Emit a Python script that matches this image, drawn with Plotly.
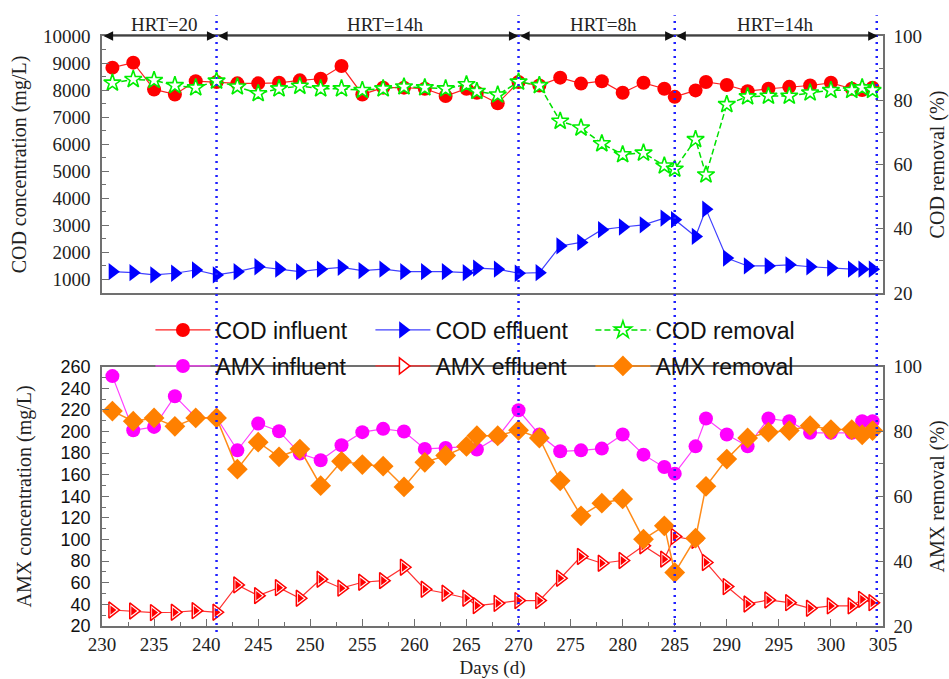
import plotly.graph_objects as go

days = [231, 233, 235, 237, 239, 241, 243, 245, 247, 249, 251, 253, 255, 257, 259, 261, 263, 265, 266, 268,
        270, 272, 274, 276, 278, 280, 282, 284, 285, 287, 288, 290, 292, 294, 296, 298, 300, 302, 303, 304]

cod_influent = [8830, 9015, 8025, 7840, 8330, 8300, 8250, 8250, 8270, 8360, 8420, 8890, 7840, 8090, 8090, 8050, 7780, 8050, 7900, 7510,
                8300, 8170, 8460, 8240, 8330, 7900, 8270, 8050, 7750, 7990, 8300, 8190, 7960, 8050, 8120, 8170, 8270, 8050, 8000, 8090]
cod_effluent = [1290, 1250, 1170, 1230, 1350, 1170, 1290, 1470, 1380, 1290, 1380, 1450, 1330, 1380, 1290, 1290, 1290, 1250, 1420, 1380,
                1230, 1250, 2240, 2370, 2840, 2940, 3020, 3270, 3210, 2590, 3600, 1790, 1500, 1500, 1540, 1470, 1420, 1380, 1380, 1380]
cod_removal = [85.4, 86.5, 86.2, 84.6, 83.9, 86.0, 84.2, 82.1, 83.6, 84.4, 83.6, 83.6, 83.1, 83.6, 84.2, 83.9, 83.6, 84.9, 82.8, 81.7,
               85.7, 84.6, 73.5, 71.4, 66.5, 63.1, 63.6, 59.6, 58.6, 67.8, 56.8, 78.7, 81.1, 81.3, 81.3, 82.3, 83.1, 83.1, 83.9, 83.1]

amx_influent = [251.3, 201.2, 204.3, 232.7, 213, 213, 182.6, 207.4, 200.3, 179.6, 173.4, 187.3, 199.4, 202.5, 200, 183.9, 184.8, 186, 183.3, 195,
                219.7, 197.2, 181.7, 182.6, 184.2, 197.2, 178.6, 167.2, 161, 186.3, 212, 197.2, 186.3, 212, 209.5, 198.8, 198.8, 198.8, 209.5, 209.5]
amx_effluent = [34.8, 33.9, 32.4, 32.7, 34.2, 32.7, 58, 48.1, 55.5, 45.7, 63.3, 55, 60.5, 62, 74.4, 54, 50.3, 45.7, 38.9, 41,
                43.5, 43.5, 64.2, 84.3, 78.1, 80.6, 94.2, 81.9, 102.9, 99.2, 78.8, 56.5, 40.4, 44.1, 41.6, 36.4, 38.6, 38.6, 44.7, 41.6]
amx_removal = [86.3, 83.2, 84.2, 81.6, 84.2, 84.2, 68.4, 76.7, 72.2, 74.6, 63.3, 70.8, 69.8, 69.3, 62.9, 70.5, 72.6, 75.4, 78.7, 78.7,
               80.4, 78, 64.8, 54, 57.9, 59.2, 46.8, 50.9, 36.5, 47.1, 63.1, 71.5, 78, 79.8, 80.3, 81.8, 80.6, 80.6, 79, 80.3]

cod_ticks = [1000, 2000, 3000, 4000, 5000, 6000, 7000, 8000, 9000, 10000]
cod_ticktext = ["1000", "2000", "3000", "4000", "5000", "6000", "7000", "8000", "9000", "10000"]

hrt_bounds = [230, 241, 270, 285, 304.5]
hrt_labels = ["HRT=20", "HRT=14h", "HRT=8h", "HRT=14h"]
hrt_label_x = [236.0, 257.2, 278.2, 294.7]
divider_days = [241, 270, 285, 304.4]

SERIF = "Liberation Serif, Times New Roman, serif"
SANS = "Liberation Sans, Arial, sans-serif"
AX = "#707070"

fig = go.Figure()

fig.add_trace(go.Scatter(x=days, y=cod_influent, name="COD influent", mode="lines+markers",
                         line=dict(color="#ff2020", width=1.2),
                         marker=dict(symbol="circle", size=14, color="#ff0000"),
                         xaxis="x", yaxis="y", legend="legend"))
fig.add_trace(go.Scatter(x=days, y=cod_effluent, name="COD effluent", mode="lines+markers",
                         line=dict(color="#4040ff", width=1.2),
                         marker=dict(symbol="triangle-right", size=15, color="#0000ff"),
                         xaxis="x", yaxis="y", legend="legend"))
fig.add_trace(go.Scatter(x=days, y=cod_removal, name="COD removal", mode="lines+markers",
                         line=dict(color="#00e000", width=1.5, dash="6px,3px"),
                         marker=dict(symbol="star", size=13, color="white",
                                     line=dict(color="#00ee00", width=1.6)),
                         xaxis="x", yaxis="y2", legend="legend"))

fig.add_trace(go.Scatter(x=days, y=amx_influent, name="AMX influent", mode="lines+markers",
                         line=dict(color="#ff40ff", width=1.2),
                         marker=dict(symbol="circle", size=14, color="#ff00ff"),
                         xaxis="x2", yaxis="y3", legend="legend2"))
fig.add_trace(go.Scatter(x=days, y=amx_effluent, name="AMX effluent", mode="lines+markers",
                         line=dict(color="#ff3030", width=1.2),
                         marker=dict(symbol="triangle-right", size=14, color="white",
                                     line=dict(color="#ff0000", width=1.5)),
                         xaxis="x2", yaxis="y3", legend="legend2"))
fig.add_trace(go.Scatter(x=days, y=amx_effluent, name="AMX effluent fill", mode="markers",
                         marker=dict(symbol="triangle-right", size=8, color="#ff0000"),
                         xaxis="x2", yaxis="y3", showlegend=False, hoverinfo="skip"))
fig.add_trace(go.Scatter(x=days, y=amx_removal, name="AMX removal", mode="lines+markers",
                         line=dict(color="#ff8c1a", width=1.5),
                         marker=dict(symbol="diamond", size=16, color="#ff8000"),
                         xaxis="x2", yaxis="y4", legend="legend2"))

TOP = [0.5644, 1.0]
BOT = [0.0, 0.4395]

common_axis = dict(showline=True, linecolor=AX, linewidth=1.5, showgrid=False, zeroline=False,
                   ticks="inside", tickcolor=AX, ticklen=7, tickwidth=1.2, automargin=False)

legend_common = dict(orientation="h", xanchor="left", yanchor="middle",
                     entrywidth=150, entrywidthmode="pixels", itemwidth=55,
                     font=dict(family=SANS, size=23, color="#111"), bgcolor="rgba(0,0,0,0)")

fig.update_layout(
    width=949, height=679,
    margin=dict(l=102, r=66, t=36, b=53, autoexpand=False),
    paper_bgcolor="white", plot_bgcolor="white",
    showlegend=True,
    xaxis=dict(domain=[0, 1], anchor="y", range=[230, 305], showticklabels=False,
               showline=True, linecolor=AX, linewidth=1.5, mirror=True, ticks="",
               showgrid=False, zeroline=False, automargin=False),
    yaxis=dict(domain=TOP, anchor="x", range=[500, 10000], tickmode="array",
               tickvals=cod_ticks, ticktext=cod_ticktext, mirror=True, ticklabelstandoff=6,
               minor=dict(dtick=500, tick0=500, ticks="inside", ticklen=4, tickcolor=AX),
               tickfont=dict(family=SERIF, size=19, color="#222"),
               title=dict(text="COD concentration (mg/L)", font=dict(family=SERIF, size=20, color="#222"),
                          standoff=11),
               **common_axis),
    yaxis2=dict(overlaying="y", side="right", anchor="x", range=[20, 100], dtick=20, tick0=20,
                ticklabelstandoff=5,
                minor=dict(dtick=10, ticks="inside", ticklen=4, tickcolor=AX),
                tickfont=dict(family=SERIF, size=19, color="#222"),
                title=dict(text="COD removal (%)", font=dict(family=SERIF, size=20, color="#222"),
                           standoff=10),
                **common_axis),
    xaxis2=dict(domain=[0, 1], anchor="y3", range=[230, 305], dtick=5, tick0=230, mirror=True,
                ticklabelstandoff=0,
                minor=dict(dtick=2.5, tick0=230, ticks="inside", ticklen=4, tickcolor=AX),
                tickfont=dict(family=SERIF, size=19, color="#222"),
                title=dict(text="Days (d)", font=dict(family=SERIF, size=19, color="#222"), standoff=16),
                **common_axis),
    yaxis3=dict(domain=BOT, anchor="x2", range=[20, 260], dtick=20, tick0=20, mirror=True,
                ticklabelstandoff=6,
                minor=dict(dtick=10, ticks="inside", ticklen=4, tickcolor=AX),
                tickfont=dict(family=SANS, size=18, color="#111"),
                title=dict(text="AMX concentration (mg/L)", font=dict(family=SERIF, size=20, color="#222"),
                           standoff=24),
                **common_axis),
    yaxis4=dict(overlaying="y3", side="right", anchor="x2", range=[20, 100], dtick=20, tick0=20,
                ticklabelstandoff=5,
                minor=dict(dtick=10, ticks="inside", ticklen=4, tickcolor=AX),
                tickfont=dict(family=SERIF, size=19, color="#222"),
                title=dict(text="AMX removal (%)", font=dict(family=SERIF, size=20, color="#222"),
                           standoff=10),
                **common_axis),
    legend=dict(x=0.062, y=0.5017, **legend_common),
    legend2=dict(x=0.062, y=0.4407, **legend_common),
)

shapes = []
for d in divider_days:
    shapes.append(dict(type="line", xref="x", yref="paper", x0=d, x1=d, y0=-0.01, y1=1.035,
                       line=dict(color="#2020ff", width=2.5, dash="2px,5px"), layer="above"))
fig.update_layout(shapes=shapes)

annotations = []
for i in range(len(hrt_labels)):
    annotations.append(dict(x=hrt_bounds[i + 1], y=10000, xref="x", yref="y",
                            ax=hrt_bounds[i], ay=10000, axref="x", ayref="y",
                            text="", showarrow=True, arrowhead=2, arrowside="end+start",
                            arrowsize=1.6, arrowwidth=1.2, arrowcolor="#111"))
    annotations.append(dict(x=hrt_label_x[i], y=(626 - 25) / 590, xref="x", yref="paper",
                            text=hrt_labels[i], showarrow=False, yanchor="middle",
                            font=dict(family=SERIF, size=19, color="#222")))
fig.update_layout(annotations=annotations)

fig.write_html("out.html")
